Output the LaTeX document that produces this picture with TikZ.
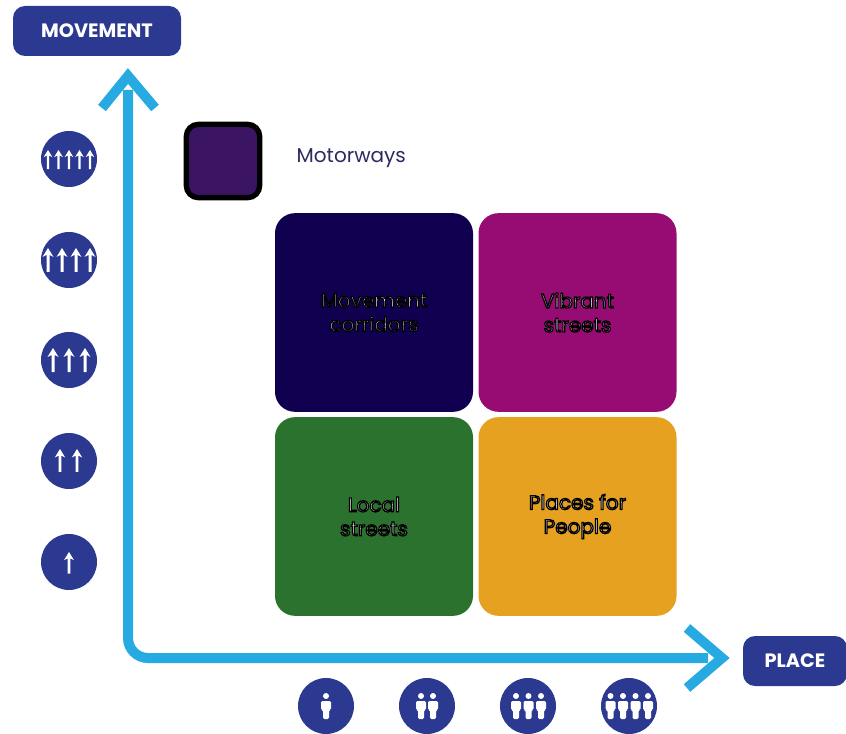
\documentclass[tikz,border=0pt]{standalone}
\usepackage{fontspec}
\setmainfont{Poppins}
\usetikzlibrary{arrows.meta}
\definecolor{badge}{HTML}{2B3990}
\definecolor{axis}{HTML}{27AAE1}
\definecolor{moto}{HTML}{3B1463}
\definecolor{corr}{HTML}{110050}
\definecolor{vibr}{HTML}{970C73}
\definecolor{locl}{HTML}{2B722E}
\definecolor{plcs}{HTML}{E5A11F}
\definecolor{mtxt}{HTML}{2C2A5E}
\newcommand{\halo}[1]{\special{pdf:code q 2 Tr 0.9 w 0 0 0 RG}#1\special{pdf:code 0 Tr Q}}
\tikzset{
  x=0.75pt,y=-0.75pt,
  tag/.style={fill=badge,rounded corners=9pt,inner sep=0pt,text=white,font=\fontsize{14.5}{16}\selectfont\bfseries},
  quad/.style={rounded corners=15pt,minimum width=148.5pt,minimum height=149pt,inner sep=0pt,text=white,align=center,font=\fontsize{15}{21}\selectfont},
  badgeC/.style={circle,fill=badge,minimum size=42pt,inner sep=0pt},
  axisline/.style={draw=axis,line width=7.5pt,rounded corners=15pt,
    {Straight Barb[length=20pt,width=44pt,line width=0pt,round=false]}-{Straight Barb[length=20pt,width=44pt]}},
  pics/uparr/.style={code={
    \fill[white] (-1.5,24) -- (-1.5,7) -- (-5.5,9) -- (0,0) -- (5.5,9) -- (1.5,7) -- (1.5,24) -- cycle;}},
  pics/person/.style={code={
    \fill[white] (0,3) circle[radius=3];
    \fill[white,rounded corners=1pt] (-5,8) -- (5,8) -- (5,17) -- (3,17) -- (3,26) -- (-3,26) -- (-3,17) -- (-5,17) -- cycle;}},
}
\begin{document}
\begin{tikzpicture}
\useasboundingbox (0,0) rectangle (846,734);
\node[tag,minimum width=126pt,minimum height=37.5pt] (mv) at (97,31) {MOVEMENT};
\node[tag,minimum width=78pt,minimum height=37.5pt] (pl) at (795,661) {PLACE};
\coordinate (ytip) at (128,76);
\coordinate (xtip) at (722,658);
\coordinate (org) at (128,658);
\draw[draw=axis,line width=7.5pt,rounded corners=15pt] (128,90) -- (org) -- (708,658);
\draw[axis,line width=7.5pt,miter limit=10] (102,108) -- (ytip) -- (155,108);
\draw[axis,line width=7.5pt,miter limit=10] (687,628) -- (xtip) -- (687,688);
\node[draw=black,line width=4pt,fill=moto,rounded corners=9pt,minimum size=55pt,inner sep=0pt] (mw) at (223,161) {};
\node[anchor=west,text=mtxt,font=\fontsize{15}{18}\selectfont] (mwt) at (292,158) {Motorways};
\node[quad,fill=corr] (q1) at (374,312.5) {\halo{Movement}\\[-3pt]\halo{corridors}};
\node[quad,fill=vibr] (q2) at (577.5,312.5) {\halo{Vibrant}\\[-3pt]\halo{streets}};
\node[quad,fill=locl] (q3) at (374,516.5) {\halo{Local}\\[-3pt]\halo{streets}};
\node[quad,fill=plcs] (q4) at (577.5,516.5) {\halo{Places for}\\[-3pt]\halo{People}};
% movement badges
\node[badgeC] (m5) at (69,159) {};
\node[badgeC] (m4) at (69,260) {};
\node[badgeC] (m3) at (69,360) {};
\node[badgeC] (m2) at (69,461) {};
\node[badgeC] (m1) at (69,562) {};
\foreach \x in {48,58.5,69,79.5,90} \pic[scale=0.8] at (\x,150) {uparr};
\foreach \x in {48,62,76,90} \pic at (\x,248) {uparr};
\foreach \x in {53,69,85} \pic at (\x,348) {uparr};
\foreach \x in {60,77} \pic[scale=0.95] at (\x,449) {uparr};
\pic[scale=0.9] at (69,552) {uparr};
% place badges
\node[badgeC] (p1) at (326,706) {};
\node[badgeC] (p2) at (427,706) {};
\node[badgeC] (p3) at (528,706) {};
\node[badgeC] (p4) at (629,706) {};
\pic at (326,693) {person};
\foreach \x in {421,433} \pic at (\x,693) {person};
\foreach \x in {516,528.5,541} \pic at (\x,693) {person};
\foreach \x in {610.5,623,635.5,648} \pic at (\x,693) {person};
\end{tikzpicture}
\end{document}
